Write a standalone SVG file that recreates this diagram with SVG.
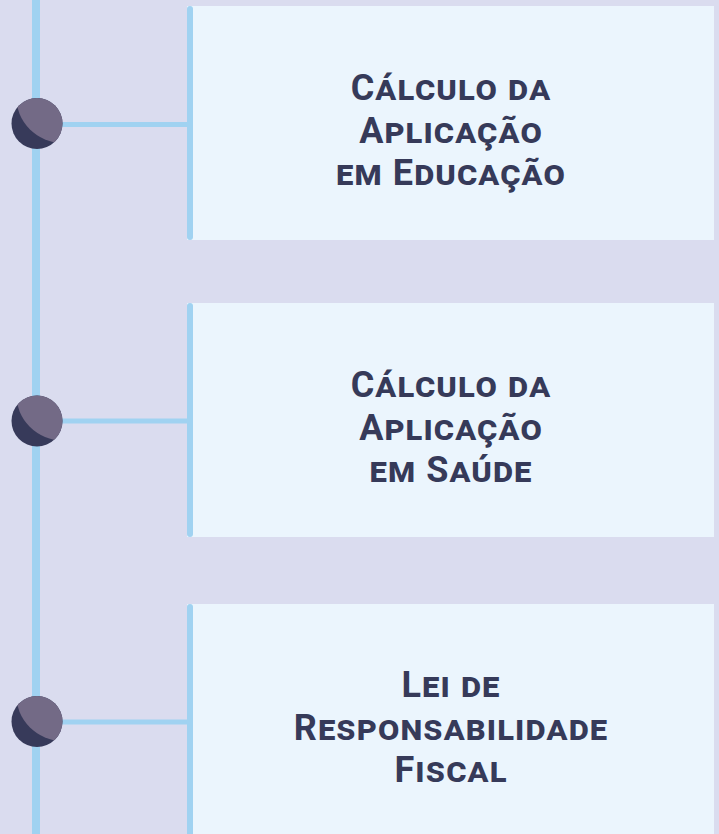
<svg xmlns="http://www.w3.org/2000/svg" width="719" height="834" viewBox="0 0 719 834">
<defs>
<style>
.bg{fill:#dadcef}
.card{fill:#ebf5fd}
.bar{fill:#a0d2f1}
.link{stroke:#a0d2f1;stroke-width:5;fill:none}
.lbl{font-family:Roboto,"Liberation Sans",sans-serif;font-weight:700;font-size:36px;font-variant:small-caps;letter-spacing:1.1px;fill:#363a59;text-anchor:middle}
.dark{fill:#373a5a}
.light{fill:#736a86}
</style>
<clipPath id="c1"><circle cx="37" cy="123.5" r="25.5"/></clipPath>
<clipPath id="c2"><circle cx="37" cy="421" r="25.5"/></clipPath>
<clipPath id="c3"><circle cx="37" cy="721.5" r="25.5"/></clipPath>
</defs>
<rect class="bg" x="0" y="0" width="719" height="834"/>
<g id="timeline">
<rect class="bar" x="32" y="0" width="8" height="834"/>
</g>
<g id="connectors">
<line class="link" x1="40" y1="124.5" x2="190" y2="124.5"/>
<line class="link" x1="40" y1="421" x2="190" y2="421"/>
<line class="link" x1="40" y1="722" x2="190" y2="722"/>
</g>
<g id="node1">
<rect class="card" x="187" y="6" width="527" height="234"/>
<rect class="bar" x="187" y="6" width="6" height="234" rx="3"/>
<text class="lbl"><tspan x="451" y="100">Cálculo da</tspan><tspan x="451" y="143">Aplicação</tspan><tspan x="451" y="185">em Educação</tspan></text>
</g>
<g id="node2">
<rect class="card" x="187" y="303" width="527" height="234"/>
<rect class="bar" x="187" y="303" width="6" height="234" rx="3"/>
<text class="lbl"><tspan x="451" y="397">Cálculo da</tspan><tspan x="451" y="440">Aplicação</tspan><tspan x="451" y="482">em Saúde</tspan></text>
</g>
<g id="node3">
<rect class="card" x="187" y="604" width="527" height="240"/>
<rect class="bar" x="187" y="604" width="6" height="240" rx="3"/>
<text class="lbl"><tspan x="451" y="697">Lei de</tspan><tspan x="451" y="740">Responsabilidade</tspan><tspan x="451" y="782">Fiscal</tspan></text>
</g>
<g id="dot1">
<circle class="dark" cx="37" cy="123.5" r="25.5"/>
<circle class="light" cx="63" cy="96" r="47" clip-path="url(#c1)"/>
</g>
<g id="dot2">
<circle class="dark" cx="37" cy="421" r="25.5"/>
<circle class="light" cx="63" cy="393.5" r="47" clip-path="url(#c2)"/>
</g>
<g id="dot3">
<circle class="dark" cx="37" cy="721.5" r="25.5"/>
<circle class="light" cx="63" cy="694" r="47" clip-path="url(#c3)"/>
</g>
</svg>
